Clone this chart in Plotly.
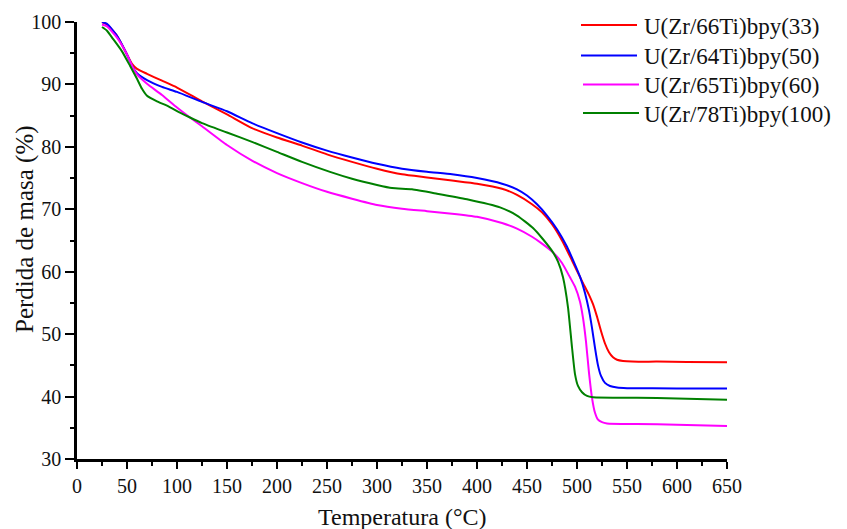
import plotly.graph_objects as go

# Thermogravimetric curves: temperature (°C) vs remaining mass (%)
names = ["U(Zr/66Ti)bpy(33)", "U(Zr/64Ti)bpy(50)", "U(Zr/65Ti)bpy(60)", "U(Zr/78Ti)bpy(100)"]
colors = ["#ff0000", "#0000ff", "#ff00ff", "#008000"]

t_66 = [25, 30, 40, 50, 55, 60, 70, 85, 100, 125, 150, 175, 200, 225, 250, 275, 300, 325, 350, 375,
        400, 425, 440, 455, 465, 475, 485, 495, 505, 512, 516, 520, 524, 528, 532, 536, 540, 546, 555,
        580, 610, 650]
m_66 = [100, 99.6, 97.8, 94.8, 93.3, 92.5, 91.7, 90.6, 89.5, 87.3, 85.2, 83.0, 81.5, 80.2, 78.8, 77.6,
        76.5, 75.6, 75.1, 74.6, 74.1, 73.3, 72.3, 70.8, 69.5, 67.6, 65.0, 61.8, 58.5, 56.3, 54.8, 52.8,
        50.5, 48.5, 47.1, 46.3, 45.9, 45.7, 45.6, 45.6, 45.55, 45.5]

t_64 = [25, 30, 40, 50, 55, 60, 70, 85, 100, 125, 150, 175, 200, 225, 250, 275, 300, 325, 350, 375,
        400, 425, 440, 450, 460, 470, 480, 490, 497, 503, 508, 512, 515, 518, 521, 524, 528, 533, 540,
        550, 600, 650]
m_64 = [100, 99.7, 97.8, 94.8, 93.0, 91.8, 90.7, 89.6, 88.8, 87.2, 85.7, 83.8, 82.2, 80.7, 79.4, 78.3,
        77.3, 76.5, 76.0, 75.6, 75.0, 74.1, 73.2, 72.2, 70.8, 69.0, 66.8, 64.0, 61.5, 59.2, 56.6, 53.8,
        51.0, 47.8, 45.0, 43.3, 42.2, 41.7, 41.45, 41.35, 41.3, 41.3]

t_65 = [25, 30, 40, 50, 55, 60, 70, 85, 100, 113, 125, 150, 175, 200, 225, 250, 275, 300, 325, 350,
        375, 400, 425, 440, 455, 465, 476, 485, 493, 498, 503, 506, 509, 512, 515, 518, 521, 525, 530,
        560, 600, 650]
m_65 = [99.6, 99.3, 97.5, 94.8, 93.0, 91.6, 90.1, 88.3, 86.3, 84.7, 83.3, 80.3, 77.8, 75.8, 74.2, 72.8,
        71.7, 70.7, 70.1, 69.7, 69.3, 68.8, 67.8, 66.9, 65.6, 64.5, 63.1, 61.4, 59.1, 57.6, 55.2, 52.6,
        48.8, 43.8, 39.8, 37.4, 36.3, 35.9, 35.7, 35.6, 35.5, 35.3]

t_78 = [25, 30, 36, 45, 53, 60, 65, 70, 80, 90, 103, 113, 125, 150, 175, 200, 225, 253, 275, 300, 315,
        335, 360, 390, 423, 440, 456, 466, 476, 481, 486, 491, 495, 498, 501, 505, 510, 516, 560, 600, 650]
m_78 = [99.2, 98.6, 97.3, 95.3, 93.0, 90.9, 89.3, 88.2, 87.3, 86.6, 85.5, 84.7, 83.8, 82.3, 80.8, 79.2,
        77.6, 76.0, 74.9, 73.9, 73.4, 73.2, 72.5, 71.6, 70.3, 69.0, 67.0, 65.2, 63.1, 61.6, 59.1, 54.3,
        47.9, 43.6, 41.7, 40.7, 40.1, 39.9, 39.8, 39.7, 39.5]

x_ticks = list(range(0, 651, 50))
y_ticks = list(range(30, 101, 10))

series = [(t_66, m_66), (t_64, m_64), (t_65, m_65), (t_78, m_78)]

W, H = 847, 529
L, R, T, B = 77, 120, 22, 70
FONT = "Liberation Serif, Times New Roman, serif"

fig = go.Figure()
for (tx, my), name, col in zip(series, names, colors):
    fig.add_trace(go.Scatter(x=tx, y=my, mode="lines", name=name,
                             line=dict(color=col, width=2, shape="spline", smoothing=0.5),
                             showlegend=False))


def px_to_paper(px, py):
    return (px - L) / (W - L - R), (H - B - py) / (H - T - B)


# hand-drawn legend: long line samples with labels to their right
shapes = []
annotations = []
legend_rows = [25, 55.5, 84.5, 113]
legend_x0 = [581, 581, 583, 583]
for name, col, ry, lx in zip(names, colors, legend_rows, legend_x0):
    x0, y0 = px_to_paper(lx, ry)
    x1, _ = px_to_paper(lx + 56, ry)
    shapes.append(dict(type="line", xref="paper", yref="paper", x0=x0, x1=x1, y0=y0, y1=y0,
                       line=dict(color=col, width=2.2)))
    tx, ty = px_to_paper(642, ry + 1.5)
    annotations.append(dict(text=name, xref="paper", yref="paper", x=tx, y=ty, xanchor="left",
                            yanchor="middle", showarrow=False,
                            font=dict(family=FONT, size=23, color="#111111")))

# axis titles placed as annotations so the plot area keeps its fixed margins
ax_x, ax_y = px_to_paper(402, 517)
annotations.append(dict(text="Temperatura (°C)", xref="paper", yref="paper", x=ax_x, y=ax_y,
                        xanchor="center", yanchor="middle", showarrow=False,
                        font=dict(family=FONT, size=24, color="#111111")))
ay_x, ay_y = px_to_paper(25, 229)
annotations.append(dict(text="Perdida de masa (%)", xref="paper", yref="paper", x=ay_x, y=ay_y,
                        xanchor="center", yanchor="middle", showarrow=False, textangle=-90,
                        font=dict(family=FONT, size=25, color="#111111")))

fig.update_layout(
    width=W, height=H,
    margin=dict(l=L, r=R, t=T, b=B, pad=0, autoexpand=False),
    paper_bgcolor="white", plot_bgcolor="white",
    font=dict(family=FONT, size=18, color="#111111"),
    shapes=shapes, annotations=annotations,
    showlegend=False,
)
fig.update_xaxes(
    range=[0, 650], tickmode="array", tickvals=x_ticks, ticktext=[str(v) for v in x_ticks],
    showgrid=False, zeroline=False, showline=True, linecolor="black", linewidth=2.5,
    ticks="outside", ticklen=7, tickwidth=2, tickcolor="black",
    minor=dict(ticks="outside", dtick=25, tick0=0, ticklen=4, tickwidth=2, tickcolor="black", showgrid=False),
    tickfont=dict(family=FONT, size=20, color="#111111"), automargin=False,
)
fig.update_yaxes(
    range=[30, 100], tickmode="array", tickvals=y_ticks, ticktext=[str(v) for v in y_ticks],
    showgrid=False, zeroline=False, showline=True, linecolor="black", linewidth=2.5,
    ticks="outside", ticklen=9, tickwidth=2, tickcolor="black",
    minor=dict(ticks="outside", dtick=5, tick0=30, ticklen=4, tickwidth=2, tickcolor="black", showgrid=False),
    tickfont=dict(family=FONT, size=20, color="#111111"), automargin=False,
)

fig.write_html("out.html")
